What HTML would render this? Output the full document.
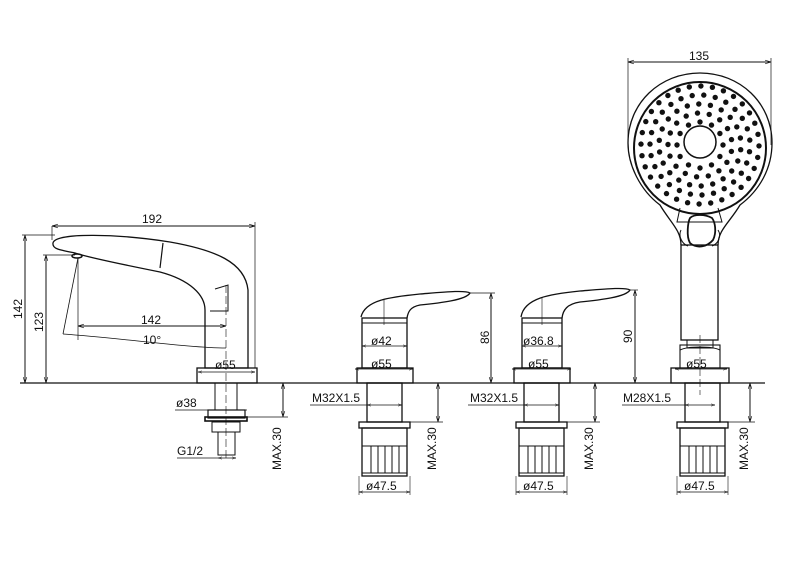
<!DOCTYPE html>
<html><head><meta charset="utf-8"><style>
html,body{margin:0;padding:0;background:#fff}
svg{display:block}
text{font-family:"Liberation Sans",sans-serif;font-size:12px;fill:#111}
</style></head><body>
<svg id="s" width="800" height="565" viewBox="0 0 800 565" xmlns="http://www.w3.org/2000/svg">
<defs>
<marker id="a" viewBox="0 0 10 10" refX="10" refY="5" markerWidth="6" markerHeight="6" orient="auto-start-reverse"><path d="M0,2 L10,5 L0,8" fill="none" stroke="#111" stroke-width="1"/></marker>
<g id="valve" fill="none" stroke="#111">
<rect x="0" y="0" width="35" height="39" stroke-width="1.3"/>
<rect x="-8" y="39" width="51" height="6" stroke-width="1.3"/>
<rect x="-5" y="45" width="45" height="48" stroke-width="1.3"/>
<rect x="-5" y="63" width="45" height="27" stroke-width="1"/>
<path d="M4,63V90M11,63V90M18,63V90M25,63V90M32,63V90" stroke-width="1"/>
</g>
</defs>
<g fill="none" stroke="#111" stroke-width="1">
<line x1="20" y1="383" x2="765" y2="383" stroke-width="1.3"/>

<path d="M53,243 C55,232 120,234 170,242 C215,250 245,262 248,290 L248,368 L205,368 L205,310 C205,295 190,280 160,272 C130,266 90,258 75,253 C60,250 52,249 53,243 Z" stroke-width="1.3"/>
<path d="M163,243 L160,268" stroke-width="1.2"/>
<path d="M215,289 L228,285 L228,311 L210,311" stroke-width="1"/>
<ellipse cx="77" cy="256" rx="5" ry="2" stroke-width="1.5"/>
<rect x="197" y="368" width="60" height="15" stroke-width="1.3"/>
<rect x="215" y="383" width="22" height="27"/>
<rect x="208" y="410" width="37" height="8" stroke-width="1.2"/>
<rect x="205" y="417" width="42" height="4" stroke-width="1.6"/>
<rect x="212" y="422" width="28" height="10"/>
<rect x="218" y="432" width="17" height="23"/>
<line x1="226" y1="285" x2="226" y2="458" stroke-dasharray="8,3" stroke-width="0.6"/>
<line x1="78" y1="258" x2="78" y2="340" stroke-width="0.7"/>
<line x1="78" y1="258" x2="63" y2="334" stroke-width="0.8"/>
<path d="M63,334 C120,338 190,348 226,348" stroke-width="0.8"/>
<line x1="52" y1="226" x2="255" y2="226" marker-start="url(#a)" marker-end="url(#a)"/>
<line x1="52" y1="226" x2="52" y2="240" stroke-width="0.7"/>
<line x1="255" y1="222" x2="255" y2="368" stroke-width="0.7"/>
<line x1="22" y1="235" x2="55" y2="235" stroke-width="0.7"/>
<line x1="25" y1="235" x2="25" y2="383" marker-start="url(#a)" marker-end="url(#a)"/>
<line x1="43" y1="255" x2="75" y2="255" stroke-width="0.7"/>
<line x1="46" y1="255" x2="46" y2="383" marker-start="url(#a)" marker-end="url(#a)"/>
<line x1="78" y1="326" x2="226" y2="326" marker-start="url(#a)" marker-end="url(#a)"/>
<line x1="198" y1="372" x2="255" y2="372" marker-start="url(#a)" marker-end="url(#a)" stroke-width="0.7"/>
<line x1="175" y1="410" x2="247" y2="410" stroke-width="0.7"/>
<line x1="218" y1="458" x2="236" y2="458" marker-start="url(#a)" marker-end="url(#a)" stroke-width="0.7"/>
<line x1="177" y1="458" x2="218" y2="458" stroke-width="0.7"/>
<line x1="245" y1="417" x2="288" y2="417" stroke-width="0.7"/>
<line x1="283" y1="383" x2="283" y2="417" marker-start="url(#a)" marker-end="url(#a)"/>

<use href="#valve" x="367" y="383"/>
<rect x="357" y="368" width="56" height="15" stroke-width="1.3"/>
<rect x="362" y="318" width="45" height="50" stroke-width="1.3"/>
<line x1="362" y1="323" x2="407" y2="323"/>
<path d="M361,317 C365,300 390,297 420,294 C445,292 465,290 470,293 C466,300 440,303 420,305 C410,307 408,312 407,318" stroke-width="1.3"/>
<line x1="384" y1="300" x2="384" y2="325" stroke-width="0.6"/>
<line x1="362" y1="346" x2="407" y2="346" marker-start="url(#a)" marker-end="url(#a)" stroke-width="0.7"/>
<line x1="355" y1="369" x2="413" y2="369" marker-start="url(#a)" marker-end="url(#a)" stroke-width="0.7"/>
<line x1="470" y1="293" x2="495" y2="293" stroke-width="0.7"/>
<line x1="491" y1="293" x2="491" y2="383" marker-start="url(#a)" marker-end="url(#a)"/>
<line x1="310" y1="405" x2="367" y2="405" stroke-width="0.7"/>
<line x1="367" y1="405" x2="402" y2="405" marker-start="url(#a)" marker-end="url(#a)" stroke-width="0.7"/>
<line x1="359" y1="492" x2="410" y2="492" marker-start="url(#a)" marker-end="url(#a)" stroke-width="0.7"/>
<line x1="359" y1="476" x2="359" y2="495" stroke-width="0.6"/>
<line x1="410" y1="476" x2="410" y2="495" stroke-width="0.6"/>
<line x1="402" y1="422" x2="443" y2="422" stroke-width="0.7"/>
<line x1="438" y1="383" x2="438" y2="422" marker-start="url(#a)" marker-end="url(#a)"/>

<use href="#valve" x="524" y="383"/>
<rect x="514" y="368" width="56" height="15" stroke-width="1.3"/>
<rect x="522" y="318" width="40" height="50" stroke-width="1.3"/>
<line x1="522" y1="323" x2="562" y2="323"/>
<path d="M521,317 C524,298 550,294 580,291 C605,289 625,287 630,290 C626,297 600,300 580,302 C567,304 563,310 562,318" stroke-width="1.3"/>
<line x1="542" y1="297" x2="542" y2="325" stroke-width="0.6"/>
<line x1="522" y1="346" x2="562" y2="346" marker-start="url(#a)" marker-end="url(#a)" stroke-width="0.7"/>
<line x1="512" y1="369" x2="571" y2="369" marker-start="url(#a)" marker-end="url(#a)" stroke-width="0.7"/>
<line x1="630" y1="290" x2="638" y2="290" stroke-width="0.7"/>
<line x1="635" y1="290" x2="635" y2="383" marker-start="url(#a)" marker-end="url(#a)"/>
<line x1="468" y1="405" x2="524" y2="405" stroke-width="0.7"/>
<line x1="524" y1="405" x2="559" y2="405" marker-start="url(#a)" marker-end="url(#a)" stroke-width="0.7"/>
<line x1="516" y1="492" x2="567" y2="492" marker-start="url(#a)" marker-end="url(#a)" stroke-width="0.7"/>
<line x1="516" y1="476" x2="516" y2="495" stroke-width="0.6"/>
<line x1="567" y1="476" x2="567" y2="495" stroke-width="0.6"/>
<line x1="559" y1="422" x2="600" y2="422" stroke-width="0.7"/>
<line x1="595" y1="383" x2="595" y2="422" marker-start="url(#a)" marker-end="url(#a)"/>

<use href="#valve" x="685" y="383"/>
<rect x="671" y="368" width="58" height="15" stroke-width="1.3"/>
<rect x="680" y="345" width="40" height="23" stroke-width="1.1"/>
<path d="M680,350 C688,346 712,346 720,350" />
<rect x="687" y="340" width="26" height="8"/>
<rect x="681" y="245" width="37" height="95" stroke-width="1.3"/>
<line x1="700" y1="335" x2="700" y2="395" stroke-dasharray="8,3" stroke-width="0.6"/>
<path d="M681,245 C681,230 670,222 660,205 C640,190 628,165 628,143 C628,103 660,73 700,73 C740,73 772,103 772,143 C772,168 760,190 740,205 C730,222 718,230 718,245" stroke-width="1.3"/>
<circle cx="700" cy="148" r="66" stroke-width="2"/>
<circle cx="700" cy="142" r="16" stroke-width="1.5"/>
<path d="M680,208 L677,222 L722,222 L718,208" stroke-width="1"/>
<path d="M690,218 C688,222 686,236 690,243 C697,249 707,247 713,240 C717,232 715,222 712,218 C705,214 694,214 690,218 Z" stroke-width="1.8"/>
<path d="M681,230 C678,236 682,244 688,246 M718,230 C722,236 718,244 712,246" stroke-width="1"/>
<g id="dots" fill="#111" stroke="none"></g>
<line x1="628" y1="62" x2="771" y2="62" marker-start="url(#a)" marker-end="url(#a)"/>
<line x1="628" y1="58" x2="628" y2="145" stroke-width="0.7"/>
<line x1="771" y1="58" x2="771" y2="145" stroke-width="0.7"/>
<line x1="675" y1="369" x2="727" y2="369" marker-start="url(#a)" marker-end="url(#a)" stroke-width="0.7"/>
<line x1="622" y1="405" x2="685" y2="405" stroke-width="0.7"/>
<line x1="685" y1="405" x2="715" y2="405" marker-start="url(#a)" marker-end="url(#a)" stroke-width="0.7"/>
<line x1="677" y1="492" x2="728" y2="492" marker-start="url(#a)" marker-end="url(#a)" stroke-width="0.7"/>
<line x1="677" y1="476" x2="677" y2="495" stroke-width="0.6"/>
<line x1="728" y1="476" x2="728" y2="495" stroke-width="0.6"/>
<line x1="720" y1="422" x2="755" y2="422" stroke-width="0.7"/>
<line x1="750" y1="383" x2="750" y2="422" marker-start="url(#a)" marker-end="url(#a)"/>
</g>
<text x="142" y="223">192</text>
<text x="141" y="324">142</text>
<text x="143" y="344">10°</text>
<text x="215" y="369">ø55</text>
<text x="176" y="407">ø38</text>
<text x="177" y="455">G1/2</text>
<text x="689" y="60">135</text>
<text x="371" y="345">ø42</text>
<text x="371" y="368">ø55</text>
<text x="523" y="345">ø36.8</text>
<text x="528" y="368">ø55</text>
<text x="686" y="368">ø55</text>
<text x="312" y="402">M32X1.5</text>
<text x="470" y="402">M32X1.5</text>
<text x="623" y="402">M28X1.5</text>
<text x="366" y="490">ø47.5</text>
<text x="523" y="490">ø47.5</text>
<text x="684" y="490">ø47.5</text>
<text transform="translate(22,319) rotate(-90)">142</text>
<text transform="translate(43,332) rotate(-90)">123</text>
<text transform="translate(489,344) rotate(-90)">86</text>
<text transform="translate(632,343) rotate(-90)">90</text>
<text transform="translate(281,470) rotate(-90)">MAX.30</text>
<text transform="translate(436,470) rotate(-90)">MAX.30</text>
<text transform="translate(593,470) rotate(-90)">MAX.30</text>
<text transform="translate(748,470) rotate(-90)">MAX.30</text>
</svg>
<script>
(function(){var g=document.getElementById('dots'),ns='http://www.w3.org/2000/svg',cx=700,cy=145;
var rings=[[23,12],[32,17],[41,22],[50,27],[59,32]];
rings.forEach(function(r,i){for(var k=0;k<r[1];k++){var a=2*Math.PI*k/r[1]+i*0.2;var c=document.createElementNS(ns,'circle');
c.setAttribute('cx',(cx+r[0]*Math.cos(a)).toFixed(1));c.setAttribute('cy',(cy+r[0]*Math.sin(a)).toFixed(1));c.setAttribute('r','2.7');g.appendChild(c);}});})();
</script>
</body></html>
